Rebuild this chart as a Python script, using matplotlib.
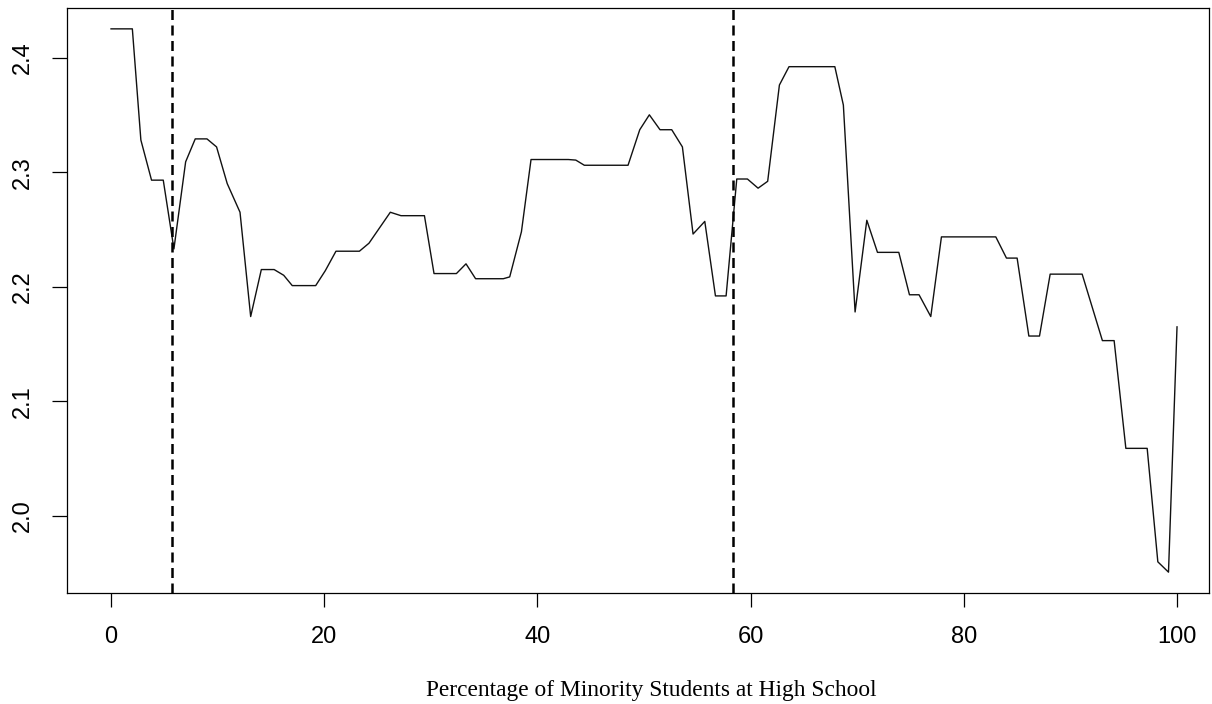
import matplotlib
matplotlib.use('Agg')
import matplotlib.pyplot as plt

# estimated points
pct = [0, 2, 2.8, 3.8, 4.9, 5.9, 7, 7.9, 9, 9.9, 10.9, 12.1, 13.1, 14.1, 15.3,
       16.2, 17, 19.2, 20.1, 21.1, 23.3, 24.2, 26.2, 27.2, 29.4, 30.3, 32.4,
       33.3, 34.2, 36.8, 37.4, 38.5, 39.4, 42.9, 43.6, 44.4, 48.5, 49.6, 50.5,
       51.5, 52.6, 53.6, 54.6, 55.7, 56.7, 57.7, 58.7, 59.7, 60.7, 61.6, 62.7,
       63.6, 67.9, 68.7, 69.8, 70.9, 71.9, 73.9, 74.9, 75.8, 76.9, 77.9, 83,
       84, 85, 86.1, 87.1, 88.1, 91.1, 93, 94.1, 95.2, 97.2, 98.2, 99.2, 100]
valor = [2.425, 2.425, 2.328, 2.293, 2.293, 2.233, 2.309, 2.329, 2.329, 2.322,
         2.29, 2.265, 2.174, 2.215, 2.215, 2.21, 2.201, 2.201, 2.214, 2.231,
         2.231, 2.238, 2.265, 2.262, 2.262, 2.2115, 2.2115, 2.22, 2.207, 2.207,
         2.2086, 2.248, 2.311, 2.311, 2.3105, 2.306, 2.306, 2.337, 2.35, 2.337,
         2.337, 2.322, 2.246, 2.257, 2.192, 2.192, 2.294, 2.294, 2.286, 2.292,
         2.376, 2.392, 2.392, 2.3585, 2.178, 2.258, 2.23, 2.23, 2.193, 2.193,
         2.174, 2.2435, 2.2435, 2.225, 2.225, 2.157, 2.157, 2.211, 2.211, 2.153,
         2.153, 2.059, 2.059, 1.96, 1.951, 2.165]
cortes = [5.72, 58.33]

fig = plt.figure(figsize=(12.12, 7.04), dpi=100)
ax = fig.add_axes([67/1212, 1-593/704, (1209-67)/1212, (593-8)/704])

ax.plot(pct, valor, color='#111111', linewidth=1.0)
for c in cortes:
	ax.axvline(c, color='black', linewidth=1.8, linestyle=(0, (4, 2.2)))

ax.set_xlim(-4.13, 103.0)
ax.set_ylim(1.9328, 2.4432)

ax.set_xticks([0, 20, 40, 60, 80, 100])
ax.set_yticks([2.0, 2.1, 2.2, 2.3, 2.4])
ax.set_yticklabels(['2.0', '2.1', '2.2', '2.3', '2.4'], rotation=90, va='center')

for lab in ax.get_xticklabels() + ax.get_yticklabels():
	lab.set_family('Liberation Sans')
	lab.set_fontsize(17)

ax.tick_params(axis='x', length=10, width=0.9, pad=14, direction='out')
ax.tick_params(axis='y', length=10.5, width=0.9, pad=13, direction='out')
for s in ax.spines.values():
	s.set_linewidth(0.9)

fig.text(651/1212, (704-696)/704, 'Percentage of Minority Students at High School',
         family='Liberation Serif', fontsize=16.8, ha='center', va='baseline')

fig.savefig('out.png', dpi=100)
